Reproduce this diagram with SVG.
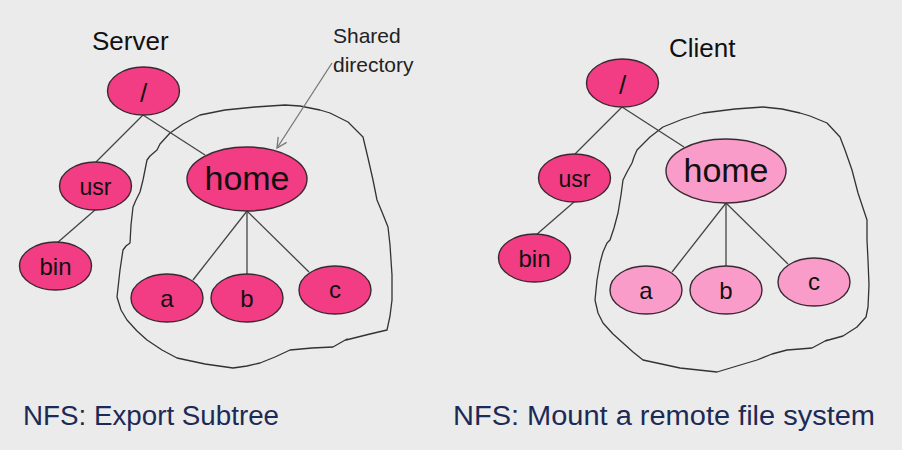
<svg xmlns="http://www.w3.org/2000/svg" width="902" height="450" viewBox="0 0 902 450">
<defs>
<style>
.bg{fill:#ebebeb}
.node{stroke:#3a2a30;stroke-width:1.4}
.dark{fill:#f23c84}
.light{fill:#fa9cca}
.lbl{font-family:"Liberation Sans",Arial,sans-serif;fill:#111;text-anchor:middle}
.edge{stroke:#444;stroke-width:1.3;fill:none}
.blob{stroke:#333;stroke-width:1.3;fill:none;stroke-linejoin:round;stroke-linecap:round}
.title{font-family:"Liberation Sans",Arial,sans-serif;font-size:26px;fill:#111}
.cap{font-family:"Liberation Sans",Arial,sans-serif;font-size:27px;fill:#1c2a56}
.note{font-family:"Liberation Sans",Arial,sans-serif;font-size:21px;fill:#222}
</style>
<marker id="open" viewBox="0 0 12 12" refX="11" refY="6" markerWidth="12" markerHeight="12" markerUnits="userSpaceOnUse" orient="auto">
<path d="M1,1 L11,6 L1,11" fill="none" stroke="#777" stroke-width="1.3"/>
</marker>
</defs>
<rect class="bg" x="0" y="0" width="902" height="450"/>

<g id="outlines">
<path class="blob" d="M387,330 L390,316 L392,300 L392,275 L390,245 L388,227 L382,212 L377,200 L373,180 L368,158 L363,137 L348,122 L330,113 L320,110 L300,106 L285,105 L255,107 L225,110 L200,115 L183,124 L170,133 L160,144 L157,150 L150,156 L147,160 L145,170 L143,180 L140,192 L136,200 L133,207 L131,225 L130,243 L126,246 L123,250 L120,270 L117,297 L121,310 L127,320 L137,331 L147,340 L162,350 L177,358 L205,364 L233,368 L247,366 L260,363 L275,357 L290,350 L312,348 L333,347 L347,339 M387,330 L370,334 L346,340"/>
<path class="blob" d="M857,327 L866,317 L868,307 L869,285 L868,260 L867,240 L867,220 L862,205 L858,193 L852,170 L845,150 L840,137 L827,123 L810,116 L800,113 L782,109 L763,107 L735,109 L703,113 L683,119 L663,127 L650,137 L637,150 L634,157 L632,163 L627,172 L623,180 L621,195 L618,213 L614,228 L610,240 L607,243 L603,252 L600,263 L597,280 L595,300 L598,313 L603,323 L613,334 L623,343 L633,352 L643,360 L680,368 L717,372 L737,366 L757,360 L772,354 L787,350 L800,349 L812,348 L827,340 M857,327 L843,336 L825,341"/>
</g>

<g id="connectors">
<line class="edge" x1="143" y1="115" x2="96" y2="162"/>
<line class="edge" x1="143" y1="115" x2="205" y2="155"/>
<line class="edge" x1="95" y1="210" x2="57" y2="243"/>
<line class="edge" x1="247" y1="211" x2="193" y2="280"/>
<line class="edge" x1="247" y1="211" x2="247" y2="274"/>
<line class="edge" x1="247" y1="211" x2="309" y2="272"/>
<line class="edge" x1="622" y1="107" x2="575" y2="154"/>
<line class="edge" x1="622" y1="107" x2="684" y2="147"/>
<line class="edge" x1="574" y1="202" x2="536" y2="235"/>
<line class="edge" x1="726" y1="203" x2="672" y2="272"/>
<line class="edge" x1="726" y1="203" x2="726" y2="266"/>
<line class="edge" x1="726" y1="203" x2="788" y2="264"/>
<line x1="332" y1="63" x2="277" y2="148" stroke="#777" stroke-width="1.3" marker-end="url(#open)"/>
</g>

<text class="title" x="92" y="50">Server</text>
<text class="title" x="669" y="57">Client</text>
<text class="note" x="333" y="43">Shared</text>
<text class="note" x="333" y="72">directory</text>

<g id="s-root"><ellipse class="node dark" cx="143.5" cy="91" rx="36" ry="24"/><text class="lbl" x="143.5" y="102" font-size="26">/</text></g>
<g id="s-usr"><ellipse class="node dark" cx="95.5" cy="186" rx="36" ry="24"/><text class="lbl" x="95.5" y="195" font-size="23">usr</text></g>
<g id="s-bin"><ellipse class="node dark" cx="55.5" cy="266" rx="36" ry="24"/><text class="lbl" x="55.5" y="275" font-size="24">bin</text></g>
<g id="s-home"><ellipse class="node dark" cx="247" cy="179" rx="60" ry="32"/><text class="lbl" x="247" y="190" font-size="34">home</text></g>
<g id="s-a"><ellipse class="node dark" cx="167" cy="298" rx="36" ry="24"/><text class="lbl" x="167" y="307" font-size="24">a</text></g>
<g id="s-b"><ellipse class="node dark" cx="247" cy="298" rx="36" ry="24"/><text class="lbl" x="247" y="307" font-size="24">b</text></g>
<g id="s-c"><ellipse class="node dark" cx="335" cy="290" rx="36" ry="24"/><text class="lbl" x="335" y="298" font-size="24">c</text></g>

<g id="c-root"><ellipse class="node dark" cx="622.5" cy="83" rx="36" ry="24"/><text class="lbl" x="622.5" y="94" font-size="26">/</text></g>
<g id="c-usr"><ellipse class="node dark" cx="574.5" cy="178" rx="36" ry="24"/><text class="lbl" x="574.5" y="187" font-size="23">usr</text></g>
<g id="c-bin"><ellipse class="node dark" cx="534.5" cy="258" rx="36" ry="24"/><text class="lbl" x="534.5" y="267" font-size="24">bin</text></g>
<g id="c-home"><ellipse class="node light" cx="726" cy="171" rx="60" ry="32"/><text class="lbl" x="726" y="182" font-size="34">home</text></g>
<g id="c-a"><ellipse class="node light" cx="646" cy="290" rx="36" ry="24"/><text class="lbl" x="646" y="299" font-size="24">a</text></g>
<g id="c-b"><ellipse class="node light" cx="726" cy="290" rx="36" ry="24"/><text class="lbl" x="726" y="299" font-size="24">b</text></g>
<g id="c-c"><ellipse class="node light" cx="814" cy="282" rx="36" ry="24"/><text class="lbl" x="814" y="290" font-size="24">c</text></g>

<text class="cap" x="23" y="425" textLength="256" lengthAdjust="spacingAndGlyphs">NFS: Export Subtree</text>
<text class="cap" x="453" y="425" textLength="422" lengthAdjust="spacingAndGlyphs">NFS: Mount a remote file system</text>
</svg>
